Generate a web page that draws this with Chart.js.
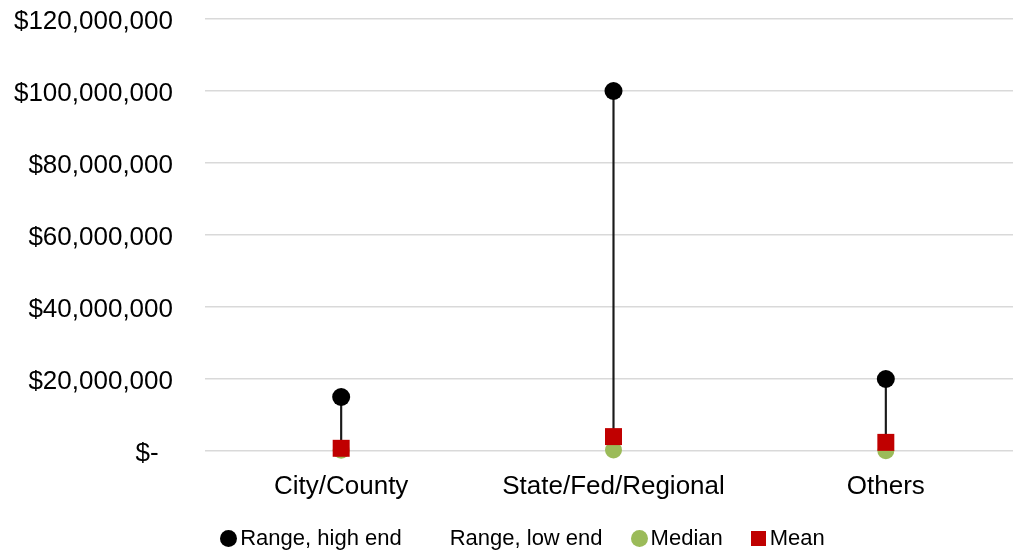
<!DOCTYPE html>
<html>
<head>
<meta charset="utf-8">
<script src="https://cdn.jsdelivr.net/npm/chart.js@4/dist/chart.umd.min.js"></script>
<style>
  html, body { margin: 0; padding: 0; background: #fff; overflow: hidden; }
  #wrap { position: relative; width: 1045px; height: 554px; }
  #legend {
    position: absolute; left: 0; top: 525px; width: 1045px; height: 26px;
    display: flex; justify-content: center; align-items: center;
    font-family: "Liberation Sans", Arial, sans-serif; font-size: 22px; color: #000;
  }
  .item { display: flex; align-items: center; margin: 0 14px; }
  .mk { width: 17px; height: 17px; margin-right: 3px; box-sizing: border-box; }
</style>
</head>
<body>
<div id="wrap">
  <canvas id="c" width="1045" height="554"></canvas>
  <div id="legend"></div>
</div>
<script>
// ---- data ----
const categories = ["City/County", "State/Fed/Regional", "Others"];
const rangeHigh  = [15000000, 100000000, 20000000];
const rangeLow   = [100000, 100000, 50000];
const median     = [200000, 300000, 100000];
const mean       = [750000, 4000000, 2400000];
const yTickValues = [0, 20000000, 40000000, 60000000, 80000000, 100000000, 120000000];
const seriesNames = ["Range, high end", "Range, low end", "Median", "Mean"];

const FONT = "'Liberation Sans', Arial, sans-serif";
const hiLow = categories.map((c, i) => [rangeLow[i], rangeHigh[i]]);

function fmt(v) {
  if (v === 0) return "$-  ";
  return "$" + v.toLocaleString("en-US");
}

const datasets = [
  { type: "bar", label: "hilo", data: hiLow, backgroundColor: "#1a1a1a",
    barThickness: 1.5, order: 10, borderWidth: 0 },
  { type: "line", label: seriesNames[0], data: rangeHigh, showLine: false, clip: false,
    pointStyle: "circle", pointRadius: 9, pointHoverRadius: 9,
    pointBackgroundColor: "#000", pointBorderWidth: 0, borderColor: "#000", order: 3 },
  { type: "line", label: seriesNames[1], data: rangeLow, showLine: false, clip: false,
    pointRadius: 0, pointHoverRadius: 0, borderColor: "rgba(0,0,0,0)", order: 4 },
  { type: "line", label: seriesNames[2], data: median, showLine: false, clip: false,
    pointStyle: "circle", pointRadius: 8.5, pointHoverRadius: 8.5,
    pointBackgroundColor: "#9bbb59", pointBorderWidth: 0, borderColor: "#9bbb59", order: 2 },
  { type: "line", label: seriesNames[3], data: mean, showLine: false, clip: false,
    pointStyle: "rect", pointRadius: 12, pointHoverRadius: 12,
    pointBackgroundColor: "#c00000", pointBorderWidth: 0, borderColor: "#c00000", order: 1 }
];

new Chart(document.getElementById("c"), {
  data: { labels: categories, datasets: datasets },
  options: {
    responsive: false,
    animation: false,
    events: [],
    layout: { padding: { left: 12, right: 23, top: 19, bottom: 43 } },
    plugins: { legend: { display: false }, tooltip: { enabled: false } },
    scales: {
      x: {
        offset: true,
        afterFit: (axis) => { axis.height = 60; },
        grid: { display: false },
        border: { display: false },
        ticks: { color: "#000", padding: 12, font: { family: FONT, size: 26 } }
      },
      y: {
        min: 0, max: 120000000,
        afterBuildTicks: (axis) => { axis.ticks = yTickValues.map(v => ({ value: v })); },
        afterFit: (axis) => { axis.width = 193; axis.paddingTop = 0; axis.paddingBottom = 0; },
        grid: { color: "#d9d9d9", lineWidth: 1.5, drawTicks: false },
        border: { display: false },
        ticks: { color: "#000", padding: 32, labelOffset: 3, font: { family: FONT, size: 26 },
                 callback: (v) => fmt(v) }
      }
    }
  }
});

// HTML legend built from the datasets
const lg = document.getElementById("legend");
datasets.slice(1).forEach(ds => {
  const it = document.createElement("div");
  it.className = "item";
  const mk = document.createElement("div");
  mk.className = "mk";
  if (ds.pointRadius > 0) {
    mk.style.background = ds.pointBackgroundColor;
    if (ds.pointStyle === "circle") mk.style.borderRadius = "50%";
    if (ds.pointStyle === "rect") { mk.style.width = "15px"; mk.style.height = "15px"; mk.style.marginRight = "4px"; }
  }
  const tx = document.createElement("span");
  tx.textContent = ds.label;
  it.appendChild(mk); it.appendChild(tx);
  lg.appendChild(it);
});
</script>
</body>
</html>
